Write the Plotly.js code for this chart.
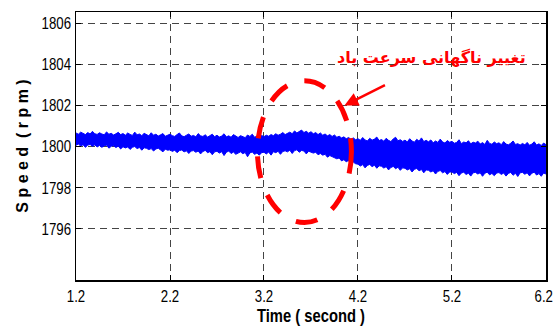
<!DOCTYPE html>
<html>
<head>
<meta charset="utf-8">
<script src="https://cdn.plot.ly/plotly-3.0.1.min.js"></script>
<style>html,body{margin:0;padding:0;background:#fff}#chart{width:558px;height:328px}</style>
</head>
<body>
<div id="chart"></div>
<script>
// Sampling of the recorded signal (seconds)
var timeStart = 1.2;
var timeStep = 0.025;

// Upper envelope of the speed signal (rpm), one value per sample
var speedUpper = [
1800.66,1800.60,1800.70,1800.63,1800.58,1800.68,1800.61,1800.74,1800.62,1800.59,
1800.67,1800.61,1800.57,1800.71,1800.60,1800.64,1800.56,1800.62,1800.69,1800.58,
1800.63,1800.55,1800.66,1800.59,1800.54,1800.70,1800.57,1800.61,1800.53,1800.64,
1800.58,1800.52,1800.67,1800.55,1800.60,1800.51,1800.57,1800.63,1800.50,1800.56,
1800.60,1800.53,1800.49,1800.58,1800.66,1800.52,1800.48,1800.55,1800.61,1800.50,
1800.54,1800.47,1800.63,1800.52,1800.49,1800.57,1800.46,1800.53,1800.60,1800.48,
1800.55,1800.46,1800.51,1800.62,1800.47,1800.52,1800.45,1800.58,1800.50,1800.44,
1800.53,1800.47,1800.43,1800.56,1800.49,1800.60,1800.45,1800.51,1800.44,1800.54,
1800.48,1800.55,1800.50,1800.58,1800.53,1800.62,1800.55,1800.60,1800.68,1800.58,
1800.64,1800.70,1800.62,1800.76,1800.66,1800.72,1800.80,1800.68,1800.74,1800.65,
1800.72,1800.62,1800.68,1800.58,1800.66,1800.55,1800.61,1800.52,1800.58,1800.49,
1800.56,1800.45,1800.50,1800.42,1800.47,1800.38,1800.44,1800.35,1800.42,1800.33,
1800.38,1800.30,1800.44,1800.32,1800.27,1800.40,1800.31,1800.36,1800.46,1800.29,
1800.34,1800.26,1800.40,1800.30,1800.24,1800.37,1800.45,1800.28,1800.33,1800.25,
1800.31,1800.22,1800.38,1800.27,1800.21,1800.35,1800.26,1800.42,1800.24,1800.30,
1800.23,1800.32,1800.18,1800.27,1800.20,1800.36,1800.22,1800.17,1800.29,1800.21,
1800.25,1800.16,1800.20,1800.33,1800.14,1800.22,1800.18,1800.28,1800.13,1800.21,
1800.17,1800.26,1800.12,1800.19,1800.10,1800.30,1800.15,1800.11,1800.22,1800.14,
1800.18,1800.09,1800.24,1800.12,1800.08,1800.16,1800.27,1800.10,1800.14,1800.07,
1800.15,1800.08,1800.20,1800.06,1800.12,1800.23,1800.07,1800.13,1800.05,1800.17,1800.09];

// Lower envelope of the speed signal (rpm), one value per sample
var speedLower = [
1800.06,1800.12,1800.02,1800.09,1799.96,1800.07,1800.10,1800.01,1800.08,1799.98,
1800.05,1799.96,1800.03,1800.07,1799.92,1800.01,1800.04,1799.95,1800.02,1799.88,
1799.99,1799.93,1799.98,1799.86,1799.96,1800.00,1799.90,1799.95,1799.82,1799.94,
1799.91,1799.85,1799.90,1799.78,1799.88,1799.92,1799.83,1799.74,1799.87,1799.82,
1799.84,1799.76,1799.82,1799.70,1799.80,1799.83,1799.74,1799.79,1799.66,1799.78,
1799.80,1799.72,1799.78,1799.64,1799.76,1799.81,1799.70,1799.75,1799.60,1799.74,
1799.77,1799.68,1799.75,1799.56,1799.72,1799.78,1799.66,1799.73,1799.62,1799.70,
1799.74,1799.65,1799.71,1799.50,1799.69,1799.73,1799.62,1799.68,1799.58,1799.70,
1799.72,1799.64,1799.73,1799.58,1799.75,1799.70,1799.77,1799.62,1799.76,1799.79,
1799.74,1799.82,1799.66,1799.80,1799.84,1799.72,1799.81,1799.78,1799.64,1799.77,
1799.74,1799.68,1799.72,1799.60,1799.66,1799.58,1799.62,1799.48,1799.56,1799.50,
1799.48,1799.40,1799.44,1799.30,1799.36,1799.26,1799.32,1799.14,1799.24,1799.16,
1799.14,1799.05,1799.12,1798.96,1799.08,1799.13,1799.02,1799.09,1798.94,1799.06,
1799.04,1798.95,1799.02,1798.86,1798.98,1799.03,1798.92,1798.99,1798.84,1798.96,
1798.94,1798.86,1798.92,1798.76,1798.89,1798.93,1798.82,1798.88,1798.72,1798.86,
1798.84,1798.76,1798.82,1798.66,1798.79,1798.83,1798.72,1798.78,1798.64,1798.76,
1798.76,1798.68,1798.74,1798.58,1798.71,1798.75,1798.64,1798.70,1798.56,1798.72,
1798.74,1798.66,1798.72,1798.55,1798.70,1798.75,1798.62,1798.69,1798.58,1798.71,
1798.73,1798.64,1798.71,1798.56,1798.69,1798.74,1798.60,1798.70,1798.54,1798.72,
1798.74,1798.65,1798.72,1798.57,1798.70,1798.75,1798.61,1798.68,1798.55,1798.71,1798.66];

var xTicks = [1.2,2.2,3.2,4.2,5.2,6.2];
var xTickLabels = ['1.2','2.2','3.2','4.2','5.2','6.2'];
var yTicks = [1796,1798,1800,1802,1804,1806];
var yTickLabels = ['1796','1798','1800','1802','1804','1806'];

var annotationText = 'تغییر ناگهانی سرعت باد';
var ellipseX = [3.13, 4.13];
var ellipseY = [1796.3, 1803.2];
var arrowHead = [4.056, 1802.0];
var labelPos = [4.98, 1804.35];

var sans = '"Liberation Sans", Arial, sans-serif';

var traces = [
  {x0: timeStart, dx: timeStep, y: speedLower, type: 'scatter', mode: 'lines',
   line: {color: '#0000ff', width: 1}, hoverinfo: 'skip', showlegend: false},
  {x0: timeStart, dx: timeStep, y: speedUpper, type: 'scatter', mode: 'lines', fill: 'tonexty',
   fillcolor: '#0000ff', line: {color: '#0000ff', width: 1}, hoverinfo: 'skip', showlegend: false}
];

var axisCommon = {
  showline: true, linecolor: '#000', linewidth: 1.5, mirror: 'ticks',
  ticks: 'inside', ticklen: 5, tickcolor: '#000', tickwidth: 1,
  showgrid: true, gridcolor: '#444', gridwidth: 1, griddash: '7px,5px',
  zeroline: false, automargin: false, ticklabeloverflow: 'allow',
  tickfont: {family: sans, size: 17, color: '#000'}
};

var layout = {
  width: 558, height: 328,
  margin: {l: 76, r: 12, t: 12, b: 48},
  paper_bgcolor: '#fff', plot_bgcolor: '#fff',
  showlegend: false,
  xaxis: Object.assign({}, axisCommon, {
    range: [1.2, 6.2002], tickvals: xTicks, ticktext: xTickLabels,
    title: {text: 'Time ( second )', font: {family: sans, size: 18, color: '#000', weight: 'bold'}, standoff: 1}
  }),
  yaxis: Object.assign({}, axisCommon, {
    range: [1793.5, 1806.55], tickvals: yTicks, ticktext: yTickLabels,
    title: {text: 'S p e e d  ( r p m )', font: {family: sans, size: 16, color: '#000', weight: 'bold'}, standoff: 0}
  }),
  shapes: [{
    type: 'circle', xref: 'x', yref: 'y', layer: 'above',
    x0: ellipseX[0], x1: ellipseX[1], y0: ellipseY[0], y1: ellipseY[1],
    line: {color: '#ff0000', width: 5, dash: '22px,18px'}
  }],
  annotations: [
    {x: arrowHead[0], y: arrowHead[1], xref: 'x', yref: 'y', text: '', showarrow: true,
     ax: 42, ay: -21, arrowhead: 2, arrowsize: 1.1, arrowwidth: 2.5, arrowcolor: '#ff0000'},
    {x: labelPos[0], y: labelPos[1], xref: 'x', yref: 'y', text: annotationText, showarrow: false,
     font: {family: '"DejaVu Sans", sans-serif', size: 16, color: '#ff0000', weight: 'bold'}}
  ]
};

function squeeze(selector, factor) {
  document.querySelectorAll(selector).forEach(function (t) {
    var len = t.getComputedTextLength();
    if (len > 0) {
      t.setAttribute('textLength', (len * factor).toFixed(1));
      t.setAttribute('lengthAdjust', 'spacingAndGlyphs');
    }
  });
}

Plotly.newPlot('chart', traces, layout, {displayModeBar: false, staticPlot: true}).then(function () {
  squeeze('#chart .xtick text, #chart .ytick text', 0.78);
  squeeze('#chart .g-xtitle text', 0.82);
  // keep the last time label inside the figure, as in the original
  var xt = document.querySelectorAll('#chart .xtick text');
  if (xt.length) {
    var last = xt[xt.length - 1];
    last.setAttribute('text-anchor', 'end');
    last.setAttribute('x', (parseFloat(last.getAttribute('x') || 0) + 7).toFixed(1));
  }
});
</script>
</body>
</html>
